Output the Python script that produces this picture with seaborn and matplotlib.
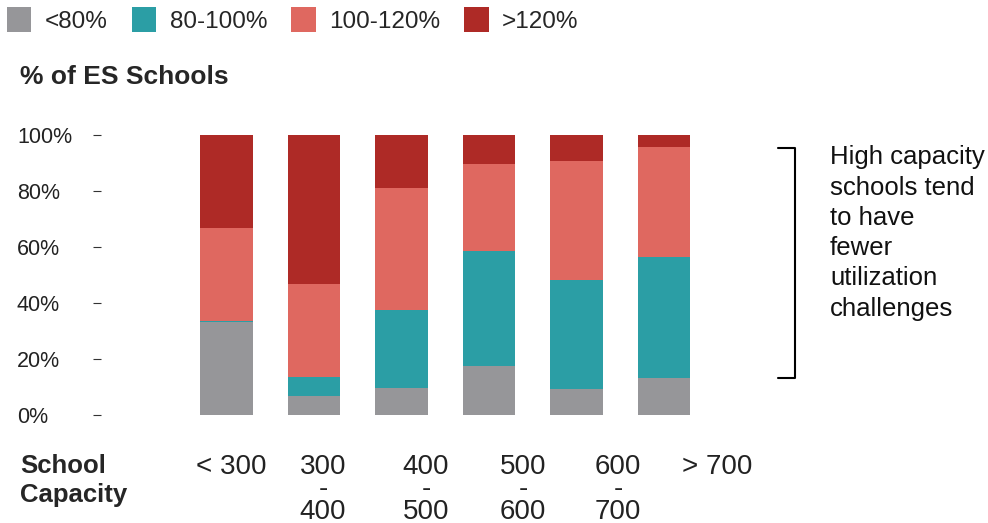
import pandas as pd
import matplotlib.pyplot as plt
import seaborn as sns

# School capacity buckets and share of ES schools per utilization band (%)
capacity = ['< 300', '300\n-\n400', '400\n-\n500', '500\n-\n600', '600\n-\n700', '> 700']
under_80 = [33.2, 6.8, 9.6, 17.5, 9.3, 13.2]
util_80_100 = [0.4, 6.8, 28.0, 41.1, 38.9, 43.2]
util_100_120 = [33.2, 33.2, 43.5, 31.0, 42.5, 39.3]
over_120 = [33.2, 53.2, 18.9, 10.4, 9.3, 4.3]

bands = ['<80%', '80-100%', '100-120%', '>120%']
colors = ['#969699', '#2b9ea5', '#df6860', '#ae2a26']

df = pd.DataFrame({
    'Capacity': capacity,
    '<80%': under_80,
    '80-100%': util_80_100,
    '100-120%': util_100_120,
    '>120%': over_120,
})

# cumulative heights so the bars can be overlaid as a stack
cum = df[bands].cumsum(axis=1)

sns.set_style('white')
plt.rcParams['font.family'] = ['Liberation Sans', 'DejaVu Sans']

fig = plt.figure(figsize=(9.88, 5.23), dpi=100)
ax = fig.add_axes([0.1022, 0.2065, 0.8978, 0.5354])

# draw from the top band down so lower bands sit in front
for band, color in reversed(list(zip(bands, colors))):
    sns.barplot(x=df['Capacity'], y=cum[band], color=color, saturation=1,
                width=0.6, errorbar=None, linewidth=0, label=band, ax=ax)

handles, labels = ax.get_legend_handles_labels()
if ax.get_legend() is not None:
    ax.get_legend().remove()

ax.set_xlim(-1.434, 8.703)
ax.set_ylim(0, 100)
ax.set_yticks([0, 20, 40, 60, 80, 100])
ax.set_yticklabels([f'{v}%' for v in [0, 20, 40, 60, 80, 100]], ha='left')
ax.tick_params(axis='y', left=True, length=5.8, width=0.8, color='#333333',
               pad=54.7, labelsize=15.5, labelcolor='#222222')
ax.set_xticks([])
ax.set_xlabel('')
ax.set_ylabel('')
for s in ax.spines.values():
    s.set_visible(False)

# bracket and note on the right
ax.plot([6.30, 6.50, 6.50, 6.30], [95.4, 95.4, 13.2, 13.2], color='black',
        lw=1.5, clip_on=False)
ax.text(6.897, 96.3, 'High capacity\nschools tend\nto have\nfewer\nutilization\nchallenges',
        ha='left', va='top', fontsize=18.5, color='#111111', linespacing=1.33)

# x labels (offset from bars as in the original layout)
label_x = [231.5, 323, 426, 523, 618, 717]
for lx, lab in zip(label_x, capacity):
    fig.text(lx / 988, 1 - 454 / 523, lab, ha='center', va='top',
             fontsize=20, color='#222222', linespacing=0.82)
fig.text(20 / 988, 1 - 454 / 523, 'School\nCapacity', ha='left', va='top',
         fontsize=18.5, fontweight='bold', linespacing=1.25)

fig.text(20 / 988, 1 - 77 / 523, '% of ES Schools', ha='left', va='center',
         fontsize=19, fontweight='bold')

order = [labels.index(b) for b in bands]
fig.legend([handles[i] for i in order], bands, loc='upper left',
           bbox_to_anchor=(7 / 988, 1 - 7 / 523), ncol=4, frameon=False,
           fontsize=17.5, handlelength=1.0, handleheight=1.2, handletextpad=0.55,
           columnspacing=1.0, borderpad=0, borderaxespad=0)

fig.savefig('out.png', dpi=100)
